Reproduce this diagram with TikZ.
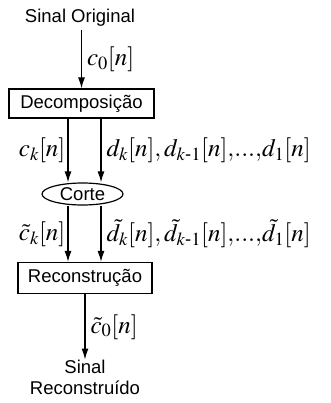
\documentclass[tikz,border=0pt]{standalone}
\usepackage{amsmath,amssymb}
\usepackage{mathptmx}
\usepackage[no-math]{fontspec}
\setmainfont{Liberation Sans}
\usetikzlibrary{arrows.meta,positioning,calc,shapes.geometric}
\def\wLine{1.2pt}
\tikzset{
  diag/.style={font=\fontsize{18.5}{21}\selectfont, every node/.style={align=center}},
  blk/.style={draw, line width=\wLine, minimum height=29pt, inner sep=2pt},
  cut/.style={draw, ellipse, line width=\wLine, minimum width=81pt, minimum height=22pt, inner sep=0pt},
  flow/.style={draw, line width=\wLine, -{Latex[length=11pt, width=7pt]}},
  lbl/.style={font=\fontsize{25}{27}\selectfont, inner ysep=1pt, inner xsep=2pt},
  lblr/.style={lbl, right, inner xsep=5pt},
}
\newcommand{\bsym}[1]{\boldsymbol{#1}}
\newcommand{\dts}{{,}{.}{.}{.}{,}}

\begin{document}
\begin{tikzpicture}[diag, x=1pt, y=-1pt]
\useasboundingbox (0,0) rectangle (330,403);

\node (orig) at (80,18) {Sinal Original};
\node[blk, minimum width=145pt] (dec) at (81.5,103.5) {Decomposição};
\node[cut] (corte) at (82.5,194) {Corte};
\node[blk, minimum width=134pt, minimum height=31pt] (rec) at (85,278) {Reconstrução};
\node[inner sep=0pt] (out) at (85,377) {Sinal\\ Reconstruído};

% decomposition
\draw[flow] (dec.north |- orig.south) -- (dec.north) node[lblr, midway] {$c_0[n]$};
\draw[flow] ([xshift=-13.5pt]dec.south) -- ([xshift=-13.5pt]dec.south |- corte.north)
  node[lbl, midway, left] {$\bsym{c}_k[n]$};
\draw[flow] ([xshift=19.5pt]dec.south) -- ([xshift=19.5pt]dec.south |- corte.north)
  node[lblr, midway] {$\bsym{d_k[n]},d_{k\text{-}1}[n]\dts d_1[n]$};

% thresholded coefficients
\draw[flow] ([xshift=-13.5pt]dec.south |- corte.south) -- ([xshift=-13.5pt]dec.south |- rec.north)
  node[lbl, midway, left] {$\tilde{c}_k[n]$};
\draw[flow] ([xshift=19.5pt]dec.south |- corte.south) -- ([xshift=19.5pt]dec.south |- rec.north)
  node[lblr, midway] {$\bsym{\tilde{d}_k[n]},\bsym{\tilde{d}_{k\text{-}1}[n]}\dts\bsym{\tilde{d}_1[n]}$};

% reconstruction
\draw[flow] (rec.south) -- (out.north) node[lblr, midway] {$\bsym{\tilde{c}_0[n]}$};
\end{tikzpicture}
\end{document}
